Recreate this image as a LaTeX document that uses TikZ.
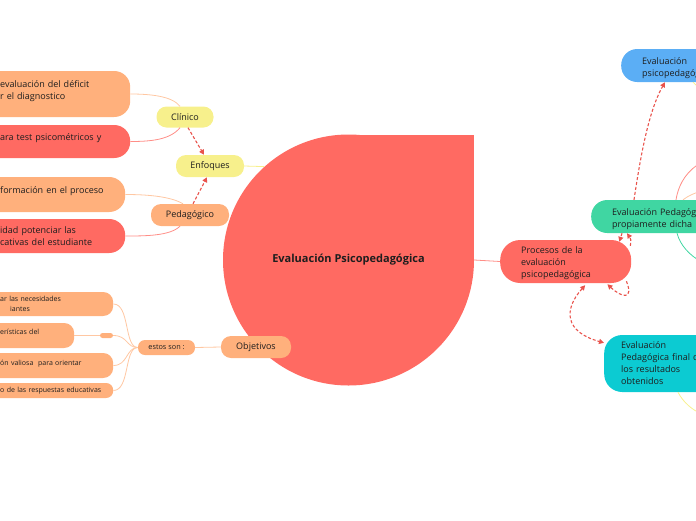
\documentclass[tikz,border=0pt]{standalone}
\usepackage{fontspec}
\setmainfont{Open Sans}
\usetikzlibrary{arrows.meta}
\definecolor{orn}{HTML}{FFB07C}
\definecolor{ornl}{HTML}{FFC7A2}
\definecolor{rd}{HTML}{FF6A62}
\definecolor{rdl}{HTML}{FF8E87}
\definecolor{yl}{HTML}{F7F08C}
\definecolor{bl}{HTML}{5BAEF5}
\definecolor{gr}{HTML}{40D6A2}
\definecolor{cy}{HTML}{0CCBD2}
\definecolor{arr}{HTML}{E9534C}
\definecolor{txt}{HTML}{1E1E1E}
\begin{document}
\begin{tikzpicture}[x=1pt,y=-1pt,
  pill/.style={rounded corners=10pt, minimum height=22pt, inner sep=0pt, text=txt, font=\fontsize{9}{10}\selectfont},
  sbox/.style={rounded corners=16pt, inner xsep=30pt, inner ysep=0pt, align=left, anchor=west, text=txt, font=\fontsize{9}{12}\selectfont},
  obox/.style={rounded corners=10pt, fill=orn, inner xsep=30pt, inner ysep=0pt, align=left, anchor=west, text=txt, font=\fontsize{7}{10}\selectfont},
  rbox/.style={align=left, anchor=west, inner ysep=0pt, text=txt, font=\fontsize{9}{12}\selectfont},
  rel/.style={draw=arr, dash pattern=on 3pt off 2pt, line width=1.1pt, -{Triangle[length=5pt,width=5pt]}},
  lnk/.style={line width=0.8pt}
]
\useasboundingbox (0,0) rectangle (696,520);

% ---- left nodes
\node[sbox, fill=orn, text width=100pt, minimum height=46pt] (l1) at (-30,94) {\mbox{evaluación del déficit}\\\mbox{r el diagnostico}\\[-4.5pt]\mbox{}};
\node[sbox, fill=rd, text width=100pt, minimum height=33pt] (l2) at (-30,141.5) {\mbox{ara test psicométricos y}\\[-2.5pt]\mbox{}};
\node[sbox, fill=orn, text width=95pt, minimum height=35pt] (l3) at (-30,194.5) {\mbox{formación en el proceso}\\[-2.5pt]\mbox{}};
\node[sbox, fill=rd, text width=95pt, minimum height=34pt] (l4) at (-30,236) {\mbox{idad potenciar las}\\\mbox{cativas del estudiante}};

\node[obox, text width=83pt, minimum height=24pt] (o1) at (-30,304) {\mbox{ar las necesidades}\\\hspace*{10pt}\mbox{iantes}};
\node[obox, text width=44pt, minimum height=25pt] (o2) at (-30,335.5) {\mbox{erísticas del}\\[-3pt]\mbox{}};
\node[obox, text width=83pt, minimum height=25pt] (o3) at (-30,365.5) {\mbox{ón valiosa\ \ para orientar}\\[-5pt]\mbox{}};
\node[obox, text width=83pt, minimum height=15pt, rounded corners=7pt] (o4) at (-30,390.5) {\mbox{o de las respuestas educativas}};
\node[fill=orn, rounded corners=2.5pt, minimum width=13pt, minimum height=5pt, inner sep=0pt] (op) at (106.5,335.5) {};

\node[pill, fill=yl, minimum width=57pt, minimum height=21pt] (cl) at (185,117) {Clínico};
\node[pill, fill=yl, minimum width=68pt] (en) at (210,166) {Enfoques};
\node[pill, fill=orn, minimum width=78pt] (pe) at (190,215) {Pedagógico};
\node[pill, fill=orn, minimum width=57pt, minimum height=15pt, rounded corners=7pt, font=\fontsize{7.3}{8}\selectfont] (es) at (166.5,347.5) {estos son :};

% ---- right nodes
\node[rbox, fill=rd, rounded corners=20pt, minimum height=43pt, inner xsep=21pt, text width=89pt] (pr) at (500,261.5) {\rule{0pt}{11pt}Procesos de la\\evaluación\\psicopedagógica};
\node[rbox, fill=gr, rounded corners=16pt, minimum height=33pt, inner xsep=21pt, text width=140pt] (ep) at (591,216.5) {\rule{0pt}{13pt}Evaluación Pedagógica\\propiamente dicha};
\node[rbox, fill=bl, rounded corners=16pt, minimum height=33pt, inner xsep=21pt, text width=140pt] (eb) at (621,65.5) {\rule{0pt}{13pt}Evaluación\\psicopedagógica};
\node[rbox, fill=cy, rounded corners=18pt, minimum height=57pt, inner xsep=17pt, text width=140pt] (ef) at (604,363.5) {Evaluación\\Pedagógica final de\\los resultados\\obtenidos};

% ---- off-canvas ends
\coordinate (x1) at (702,162);
\coordinate (x2) at (702,191);
\coordinate (x3) at (702,262);
\coordinate (x4) at (702,90);
\coordinate (x5) at (702,414);

% ---- links
\draw[lnk, ornl] ([xshift=-5pt]cl.north) .. controls (172,96) and (150,94) .. (l1.east);
\draw[lnk, rdl] ([xshift=-5pt]cl.south) .. controls (170,140) and (150,141.5) .. (l2.east);
\draw[lnk, ornl] ([xshift=-7pt]pe.north) .. controls (170,196) and (145,194.5) .. (l3.east);
\draw[lnk, rdl] ([xshift=-10pt]pe.south) .. controls (170,236) and (145,236) .. (l4.east);
\draw[lnk, ornl] (o2.east) -- (op.west);
\draw[lnk, ornl] (es.west) .. controls (124,347.5) and (130,304) .. (o1.east);
\draw[lnk, ornl] (es.west) .. controls (126,347.5) and (128,335.5) .. (op.east);
\draw[lnk, ornl] (es.west) .. controls (126,347.5) and (128,365.5) .. (o3.east);
\draw[lnk, ornl] (es.west) .. controls (124,347.5) and (130,390.5) .. (o4.east);

% ---- centre
\fill[rd] (348.5,134.5) rectangle (474,260);
\node[circle, fill=rd, minimum size=251pt, inner sep=0pt, text=txt, font=\bfseries\fontsize{11}{13}\selectfont] (c) at (348.5,260) {Evaluación Psicopedagógica};

\draw[lnk, yl] (en.east) -- (c.132);
\draw[lnk, rdl] (c.east) -- (pr.west);

\node[pill, fill=orn, minimum width=70pt] (ob) at (256,347) {Objetivos};
\draw[lnk, ornl] (ob.west) -- (es.east);

% ---- right-side child links
\draw[lnk, rdl] ([xshift=85pt]ep.north west) .. controls (679,182) and (688,170) .. (x1);
\draw[lnk, ornl] ([xshift=92pt]ep.north west) .. controls (688,196) and (694,193) .. (x2);
\draw[lnk, gr] ([xshift=86pt]ep.south west) .. controls (680,245) and (690,256) .. (x3);
\draw[lnk, yl] ([xshift=72pt]eb.south west) .. controls (696,85) and (699,88) .. (x4);
\draw[lnk, yl] ([xshift=74pt]ef.south west) .. controls (683,402) and (692,410) .. (x5);

% ---- relationship arrows
\draw[rel] ([xshift=3pt]cl.south) -- ([xshift=-6pt]en.north);
\draw[rel] ([xshift=3pt]pe.north) -- ([xshift=-3pt]en.south);
\draw[rel] ([xshift=43pt]ep.north west) .. controls (640,160) and (648,112) .. ([xshift=44pt]eb.south west);
\draw[rel] ([xshift=-1pt,yshift=-6pt]pr.north east) .. controls (631,239) .. ([xshift=36pt]ep.south west);
\draw[rel] ([xshift=31pt]ep.south west) -- ([xshift=-12pt,yshift=-2pt]pr.north east);
\draw[rel] ([xshift=-5pt,yshift=2pt]pr.south east) .. controls (634,300) and (622,298) .. ([xshift=-24pt,yshift=-1pt]pr.south east);
\draw[rel, {Triangle[length=5pt,width=5pt]}-{Triangle[length=5pt,width=5pt]}] ([xshift=19.5pt,yshift=-2pt]pr.south) .. controls (563,310) and (565,332) .. ([yshift=-8pt]ef.north west);
\end{tikzpicture}
\end{document}
